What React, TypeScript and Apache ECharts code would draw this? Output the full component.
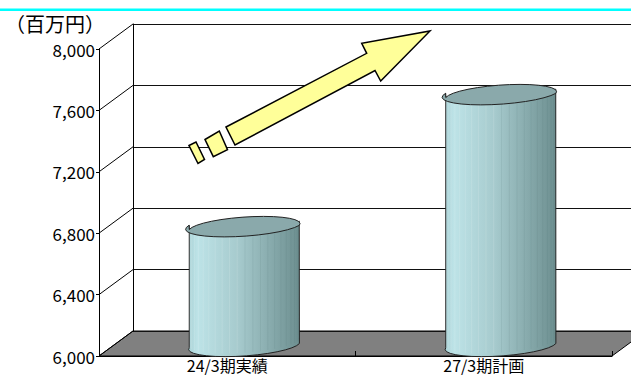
import React, { useEffect, useRef } from "react";
import * as echarts from "echarts";

const categories = ["24/3期実績", "27/3期計画"];
const values = [6770, 7630];
const yTicks = [6000, 6400, 6800, 7200, 7600, 8000];
const unitLabel = "（百万円）";

const Y_MIN = 6000;
const Y_MAX = 8000;
const Y_STEP = 400;
const DX = 34;
const DY = -25;
const FONT = "'Noto Sans CJK JP', 'Noto Sans', sans-serif";

export default function App() {
  const ref = useRef<HTMLDivElement>(null);
  useEffect(() => {
    document.body.style.margin = "0";
    const chart = echarts.init(ref.current!, null, { renderer: "svg" });
    const th = (4.4 * Math.PI) / 180;
    const rotDeg = -4.4;

    const option: any = {
      animation: false,
      backgroundColor: "#ffffff",
      title: {
        text: unitLabel,
        left: 0,
        top: 8,
        textStyle: { fontFamily: FONT, fontSize: 20, fontWeight: "normal", color: "#000" },
      },
      grid: [
        { left: 99, top: 49, width: 513, height: 307 },
        { left: 99 + DX, top: 49 + DY, width: 513, height: 307 },
      ],
      xAxis: [
        {
          gridIndex: 0,
          type: "category",
          data: categories,
          boundaryGap: true,
          axisLine: { show: true, lineStyle: { color: "#000", width: 1 } },
          axisTick: { show: true, inside: true, length: 5, lineStyle: { color: "#000" } },
          axisLabel: { fontFamily: FONT, fontSize: 16, color: "#000", margin: 1, lineHeight: 16 },
        },
        { gridIndex: 1, type: "category", data: categories, show: false },
      ],
      yAxis: [
        {
          gridIndex: 0,
          type: "value",
          min: Y_MIN,
          max: Y_MAX,
          interval: Y_STEP,
          axisLine: { show: true, lineStyle: { color: "#000", width: 1 } },
          axisTick: { show: true, length: 3, lineStyle: { color: "#000" } },
          axisLabel: {
            fontFamily: FONT,
            fontSize: 17,
            color: "#000",
            margin: 4,
            formatter: (v: number) => v.toLocaleString("en-US"),
          },
          splitLine: { show: false },
        },
        {
          gridIndex: 1,
          type: "value",
          min: Y_MIN,
          max: Y_MAX,
          interval: Y_STEP,
          axisLine: { show: true, lineStyle: { color: "#000", width: 1 } },
          axisTick: { show: false },
          axisLabel: { show: false },
          splitLine: { show: true, lineStyle: { color: "#111", width: 1 } },
        },
      ],
      series: [
        {
          type: "custom",
          xAxisIndex: 0,
          yAxisIndex: 0,
          z: -1,
          silent: true,
          data: [[0, Y_MIN]],
          renderItem: (params: any, api: any) => {
            const cs = params.coordSys;
            const x0 = cs.x;
            const x1 = cs.x + cs.width;
            const yb = cs.y + cs.height;
            const children: any[] = [
              {
                type: "polygon",
                shape: {
                  points: [
                    [x0, yb],
                    [x1, yb],
                    [x1 + DX, yb + DY],
                    [x0 + DX, yb + DY],
                  ],
                },
                style: { fill: "#808080", stroke: "#000", lineWidth: 1 },
              },
            ];
            yTicks.forEach((t) => {
              const p = api.coord([0, t]);
              children.push({
                type: "line",
                shape: { x1: x0, y1: p[1], x2: x0 + DX, y2: p[1] + DY },
                style: { stroke: "#000", lineWidth: 1 },
              });
            });
            return { type: "group", children };
          },
        },
        {
          type: "custom",
          xAxisIndex: 0,
          yAxisIndex: 0,
          z: 5,
          data: values.map((v, i) => [i, v]),
          renderItem: (params: any, api: any) => {
            const i = api.value(0);
            const v = api.value(1);
            const top = api.coord([i, v]);
            const bot = api.coord([i, Y_MIN]);
            const cx = top[0] + DX / 2;
            const cyT = top[1] + DY / 2;
            const cyB = bot[1] + DY / 2;
            const a = (api.size([1, 0])[0] * 0.43) / 2;
            const b = 10.2;
            const dx = a * Math.cos(th);
            const dy = a * Math.sin(th);
            const body =
              `M ${cx - dx} ${cyT + dy} L ${cx - dx} ${cyB + dy} ` +
              `A ${a} ${b} ${rotDeg} 0 0 ${cx + dx} ${cyB - dy} ` +
              `L ${cx + dx} ${cyT - dy} ` +
              `A ${a} ${b} ${rotDeg} 0 1 ${cx - dx} ${cyT + dy} Z`;
            const topEl =
              `M ${cx - dx} ${cyT + dy} A ${a} ${b} ${rotDeg} 0 1 ${cx + dx} ${cyT - dy} ` +
              `A ${a} ${b} ${rotDeg} 0 1 ${cx - dx} ${cyT + dy} Z`;
            const children: any[] = [
              {
                type: "path",
                shape: { pathData: body },
                style: {
                  fill: new echarts.graphic.LinearGradient(0, 0, 1, 0, [
                    { offset: 0, color: "#a9d2d6" },
                    { offset: 0.08, color: "#bde3e7" },
                    { offset: 0.45, color: "#a6cacd" },
                    { offset: 1, color: "#6d8f90" },
                  ]),
                  stroke: "#222",
                  lineWidth: 1,
                },
              },
            ];
            const N = 22;
            for (let k = 1; k < N; k++) {
              const t = Math.PI - (k * Math.PI) / N;
              const X = a * Math.cos(t) * Math.cos(th) + b * Math.sin(t) * Math.sin(th);
              const Y = -a * Math.cos(t) * Math.sin(th) + b * Math.sin(t) * Math.cos(th);
              children.push({
                type: "line",
                shape: { x1: cx + X, y1: cyT + Y, x2: cx + X, y2: cyB + Y - 1 },
                style: {
                  stroke: k < N / 2 ? "rgba(255,255,255,0.22)" : "rgba(60,90,92,0.15)",
                  lineWidth: 0.6,
                },
              });
            }
            children.push({
              type: "path",
              shape: { pathData: topEl },
              style: { fill: "#8aa9ab", stroke: "#222", lineWidth: 1 },
            });
            return { type: "group", children };
          },
        },
      ],
      graphic: [
        {
          type: "rect",
          z: 100,
          shape: { x: 0, y: 8.5, width: 631, height: 2.5 },
          style: { fill: "#00ffff" },
        },
        {
          type: "polygon",
          z: 100,
          shape: {
            points: [
              [226, 127],
              [366.7, 53.3],
              [361.7, 43.3],
              [430, 31],
              [380.7, 81],
              [375, 70.5],
              [235, 145],
            ],
          },
          style: { fill: "#ffff99", stroke: "#000", lineWidth: 1.5, lineJoin: "miter" },
        },
        {
          type: "polygon",
          z: 100,
          shape: {
            points: [
              [205, 139.5],
              [219.3, 131],
              [227.5, 149.7],
              [213.3, 156.7],
            ],
          },
          style: { fill: "#ffff99", stroke: "#000", lineWidth: 1.5 },
        },
        {
          type: "polygon",
          z: 100,
          shape: {
            points: [
              [189, 145.5],
              [196, 142],
              [204.5, 159.5],
              [198, 163.5],
            ],
          },
          style: { fill: "#ffff99", stroke: "#000", lineWidth: 1.5 },
        },
      ],
    };
    chart.setOption(option);
    return () => chart.dispose();
  }, []);
  return <div ref={ref} style={{ width: 631, height: 377 }} />;
}
